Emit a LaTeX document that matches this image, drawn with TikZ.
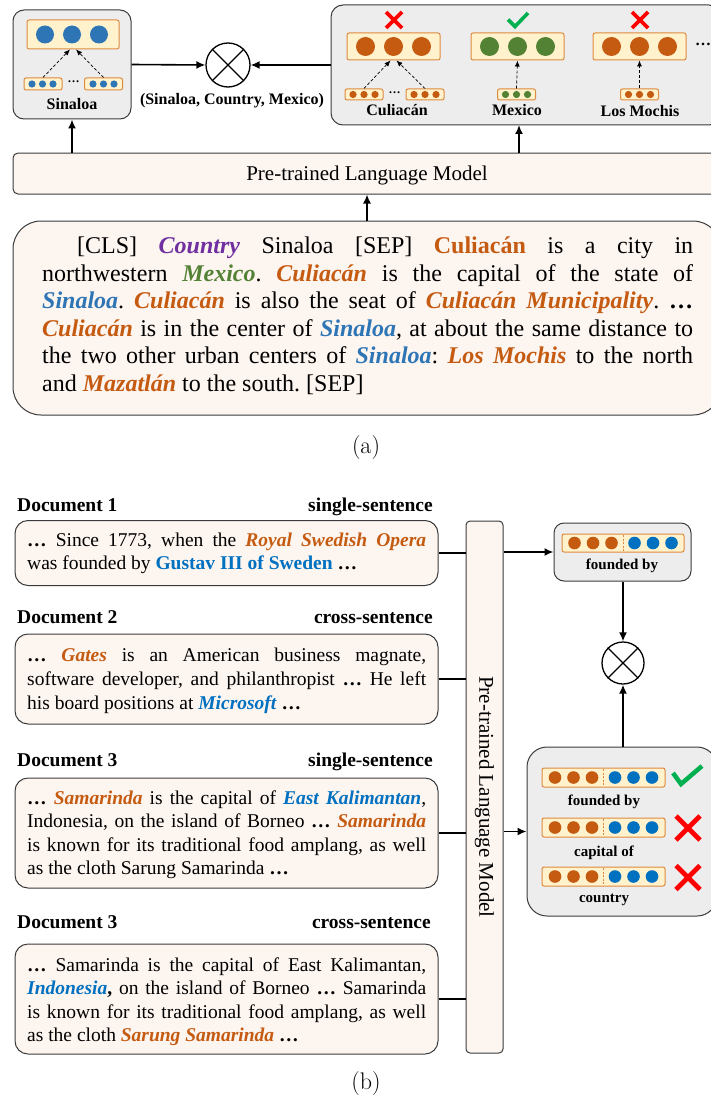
\documentclass[tikz,border=0pt]{standalone}
\usepackage{fontspec}
\setmainfont{Liberation Serif}
\newfontfamily\capfont{Latin Modern Roman}
\usetikzlibrary{arrows.meta}
\frenchspacing

\definecolor{edge}{HTML}{3B3B3B}
\definecolor{graybg}{HTML}{EDEDED}
\definecolor{peach}{HTML}{FDF5F0}
\definecolor{vfill}{HTML}{FFF2CC}
\definecolor{vedge}{HTML}{DD8A3E}
\definecolor{dotor}{HTML}{C55A11}
\definecolor{dotbl}{HTML}{2E75B6}
\definecolor{dotbldk}{HTML}{0070C0}
\definecolor{dotgr}{HTML}{548235}
\definecolor{txpu}{HTML}{7030A0}
\definecolor{okgreen}{HTML}{00B050}
\definecolor{nored}{HTML}{FF0000}

\newcommand\hlor[1]{\textcolor{dotor}{\textbf{\textit{#1}}}}
\newcommand\hlblue[1]{\textcolor{dotbl}{\textbf{\textit{#1}}}}
\newcommand\hlbluedk[1]{\textcolor{dotbldk}{\textbf{\textit{#1}}}}
\newcommand\hlgr[1]{\textcolor{dotgr}{\textbf{\textit{#1}}}}
\newcommand\hlpu[1]{\textcolor{txpu}{\textbf{\textit{#1}}}}
\newcommand\bdots{\textbf{…}}

\begin{document}
\begin{tikzpicture}[x=1pt,y=-1pt,
  graybox/.style={draw=edge,fill=graybg,line width=1pt,rounded corners=11pt,inner sep=0},
  peachbox/.style={draw=edge,fill=peach,line width=1pt,inner sep=0},
  vecbox/.style={draw=vedge,fill=vfill,line width=1pt,rounded corners=2pt,inner sep=0},
  arr/.style={-{Latex[length=9pt,width=8pt]},line width=1.6pt},
  darr/.style={-{Latex[length=6pt,width=5pt]},line width=0.7pt,dash pattern=on 3pt off 2pt},
  lbl/.style={font=\bfseries\fontsize{16}{18}\selectfont,inner sep=0},
  body/.style={font=\fontsize{24}{27.5}\selectfont,anchor=base west,inner sep=0},
  doc/.style={font=\fontsize{19.5}{23}\selectfont,anchor=base west,inner sep=0},
  dochead/.style={font=\bfseries\fontsize{19.5}{22}\selectfont,inner sep=0},
  mulop/.style={draw,circle,line width=1.3pt,inner sep=0},
  cross/.style={nored,line width=3.6pt},
  tick/.style={okgreen,line width=3.6pt},
  split/.style={vedge,line width=0.8pt,dash pattern=on 2pt off 1.5pt},
  caption/.style={font=\capfont\fontsize{24}{28}\selectfont,inner sep=0}]
\useasboundingbox (0,0) rectangle (711,1097);

% ---------------- (a) ----------------
% head entity
\node[graybox,minimum width=118pt,minimum height=109pt] (sin) at (72,64.5) {};
\node[vecbox,minimum width=92pt,minimum height=29pt] (sbig) at (73,34.5) {};
\foreach \x in {45,72,99} \fill[dotbl] (\x,34.5) circle[radius=9pt];
\node[vecbox,minimum width=38pt,minimum height=12pt] (ss1) at (43,84) {};
\node[vecbox,minimum width=38pt,minimum height=12pt] (ss2) at (103.5,84) {};
\foreach \x in {32,42.5,53,93,103.5,114} \fill[dotbl] (\x,84) circle[radius=3.6pt];
\node[font=\bfseries\fontsize{12}{12}\selectfont,inner sep=0] (sdots) at (73.5,82) {…};
\draw[darr] (ss1.north) -- ([xshift=-3pt]sbig.south);
\draw[darr] (ss2.north) -- ([xshift=3pt]sbig.south);
\node[lbl] (sinlbl) at (72,104) {Sinaloa};

% matching operator
\node[mulop,minimum size=44pt] (ox1) at (228,65) {};
\draw[line width=1.3pt] (ox1.north west) -- (ox1.south east) (ox1.north east) -- (ox1.south west);
\node[lbl] (triple) at (232,101) {(Sinaloa, Country, Mexico)};

% candidate tails
\node[graybox,rounded corners=12pt,minimum width=390pt,minimum height=120pt] (cand) at (526,65) {};
\node[vecbox,minimum width=93pt,minimum height=27pt] (cv1) at (393.5,46.5) {};
\node[vecbox,minimum width=93pt,minimum height=27pt] (cv2) at (517.5,46.5) {};
\node[vecbox,minimum width=93pt,minimum height=27pt] (cv3) at (639.5,46.5) {};
\foreach \x in {365.5,393.5,421.5,611.5,639.5,667.5} \fill[dotor] (\x,46.5) circle[radius=9.5pt];
\foreach \x in {489.5,517.5,545.5} \fill[dotgr] (\x,46.5) circle[radius=9.5pt];
\node[vecbox,minimum width=38pt,minimum height=11pt] (cs1) at (364,94.5) {};
\node[vecbox,minimum width=38pt,minimum height=11pt] (cs2) at (425,94.5) {};
\node[vecbox,minimum width=38pt,minimum height=11pt] (cs3) at (516.5,94.5) {};
\node[vecbox,minimum width=38pt,minimum height=11pt] (cs4) at (639.5,94.5) {};
\foreach \c in {364,425,639.5} \foreach \d in {-11,0,11} \fill[dotor] (\c+\d,94.5) circle[radius=3.6pt];
\foreach \d in {-11,0,11} \fill[dotgr] (516.5+\d,94.5) circle[radius=3.6pt];
\node[font=\bfseries\fontsize{12}{12}\selectfont,inner sep=0] (cdots) at (394.5,92.5) {…};
\node[font=\bfseries\fontsize{16}{16}\selectfont,inner sep=0] (moredots) at (703,44) {…};
\draw[darr] (cs1.north) -- ([xshift=-3pt]cv1.south);
\draw[darr] (cs2.north) -- ([xshift=3pt]cv1.south);
\draw[darr] (cs3.north) -- (cv2.south);
\draw[darr] (cs4.north) -- (cv3.south);
\node[lbl] (cl1) at (397,110) {Culiacán};
\node[lbl] (cl2) at (517,110) {Mexico};
\node[lbl] (cl3) at (640,111) {Los Mochis};
\draw[cross] (386,12) -- (402,28) (402,12) -- (386,28);
\draw[cross] (632,12) -- (648,28) (648,12) -- (632,28);
\draw[tick] (508,19.5) -- (515,26.5) -- (528,13);

\draw[arr] (sin.east) -- (ox1.west);
\draw[arr] (cand.west) -- (ox1.east);

% encoder
\node[peachbox,rounded corners=5pt,minimum width=708pt,minimum height=41pt] (plm) at (367,173.5) {};
\node[font=\fontsize{21}{24}\selectfont,inner sep=0] (plmtxt) at (367,175) {Pre-trained Language Model};
\coordinate (candin) at (519,125);
\draw[arr] (plm.north -| sin.south) -- (sin.south);
\draw[arr] (plm.north -| candin) -- (candin);

% input text
\node[peachbox,rounded corners=28pt,minimum width=708pt,minimum height=194pt] (tb) at (367,318) {};
\draw[arr] (tb.north) -- (plm.south);
\node[body] (a1) at (77,253) {\makebox[616pt][s]{[CLS] \hlpu{Country} Sinaloa [SEP] \textcolor{dotor}{\textbf{Culiacán}} is a city in}};
\node[body] (a2) at (42,281) {\makebox[651pt][s]{northwestern \hlgr{Mexico}. \hlor{Culiacán} is the capital of the state of}};
\node[body] (a3) at (42,308) {\makebox[651pt][s]{\hlblue{Sinaloa}. \hlor{Culiacán} is also the seat of \hlor{Culiacán Municipality}. \bdots}};
\node[body] (a4) at (42,336) {\makebox[651pt][s]{\hlor{Culiacán} is in the center of \hlblue{Sinaloa}, at about the same distance to}};
\node[body] (a5) at (42,363) {\makebox[651pt][s]{the two other urban centers of \hlblue{Sinaloa}: \hlor{Los Mochis} to the north}};
\node[body] (a6) at (42,391) {and \hlor{Mazatlán} to the south. [SEP]};
\node[caption] (capa) at (366,448) {(a)};

% ---------------- (b) ----------------
\node[dochead,anchor=base west] (h1) at (17,511) {Document 1};
\node[dochead,anchor=base east] (t1) at (433,511) {single-sentence};
\node[peachbox,rounded corners=13pt,minimum width=423pt,minimum height=65pt] (d1) at (226.5,553) {};
\node[doc] (p1a) at (27,546) {\makebox[399pt][s]{\bdots{} Since 1773, when the \hlor{Royal Swedish Opera}}};
\node[doc] (p1b) at (27,569.5) {was founded by \textcolor{dotbldk}{\textbf{Gustav III of Sweden}} \bdots};

\node[dochead,anchor=base west] (h2) at (17,623) {Document 2};
\node[dochead,anchor=base east] (t2) at (433,623) {cross-sentence};
\node[peachbox,rounded corners=13pt,minimum width=423pt,minimum height=90pt] (d2) at (226.5,679) {};
\node[doc] (p2a) at (27,661) {\makebox[399pt][s]{\bdots{} \hlor{Gates} is an American business magnate,}};
\node[doc] (p2b) at (27,685) {\makebox[399pt][s]{software developer, and philanthropist \bdots{} He left}};
\node[doc] (p2c) at (27,709) {his board positions at \hlbluedk{Microsoft} \bdots};

\node[dochead,anchor=base west] (h3) at (17,766) {Document 3};
\node[dochead,anchor=base east] (t3) at (433,766) {single-sentence};
\node[peachbox,rounded corners=13pt,minimum width=423pt,minimum height=110pt] (d3) at (226.5,833) {};
\node[doc] (p3a) at (27,804) {\makebox[399pt][s]{\bdots{} \hlor{Samarinda} is the capital of \hlbluedk{East Kalimantan},}};
\node[doc] (p3b) at (27,827.5) {\makebox[399pt][s]{Indonesia, on the island of Borneo \bdots{} \hlor{Samarinda}}};
\node[doc] (p3c) at (27,851) {\makebox[399pt][s]{is known for its traditional food amplang, as well}};
\node[doc] (p3d) at (27,874.5) {as the cloth Sarung Samarinda \bdots};

\node[dochead,anchor=base west] (h4) at (17,928) {Document 3};
\node[dochead,anchor=base east] (t4) at (431,928) {cross-sentence};
\node[peachbox,rounded corners=13pt,minimum width=423pt,minimum height=110pt] (d4) at (226.5,999) {};
\node[doc] (p4a) at (27,971) {\makebox[399pt][s]{\bdots{} Samarinda is the capital of East Kalimantan,}};
\node[doc] (p4b) at (27,994.5) {\makebox[399pt][s]{\hlbluedk{Indonesia}\textbf{,} on the island of Borneo \bdots{} Samarinda}};
\node[doc] (p4c) at (27,1018) {\makebox[399pt][s]{is known for its traditional food amplang, as well}};
\node[doc] (p4d) at (27,1041.5) {as the cloth \hlor{Sarung Samarinda} \bdots};

% vertical encoder
\node[peachbox,rounded corners=4pt,minimum width=37pt,minimum height=532pt] (plmv) at (484.5,787) {};
\node[font=\fontsize{21}{24}\selectfont,inner sep=0,rotate=-90] (plmvtxt) at (484.5,797) {Pre-trained Language Model};
\foreach \d in {d1,d2,d3,d4} \draw[line width=1.6pt] (\d.east) -- (\d.east -| plmv.west);

% query relation
\node[graybox,rounded corners=10pt,minimum width=137pt,minimum height=58pt] (fb) at (622.5,552) {};
\node[vecbox,minimum width=122pt,minimum height=18pt] (fv) at (623,543) {};
\foreach \d in {-48.5,-30,-11.5} \fill[dotor] (623+\d,543) circle[radius=6.3pt];
\foreach \d in {11.5,30,48.5} \fill[dotbldk] (623+\d,543) circle[radius=6.3pt];
\draw[split] (623,535) -- (623,551);
\node[lbl,font=\bfseries\fontsize{15}{17}\selectfont] (fl) at (622,566) {founded by};

\node[mulop,minimum size=42pt] (ox2) at (623,663) {};
\draw[line width=1.3pt] (ox2.north west) -- (ox2.south east) (ox2.north east) -- (ox2.south west);

% candidate relations
\node[graybox,rounded corners=20pt,minimum width=190pt,minimum height=169pt] (rb) at (622,831.5) {};
\foreach \y/\n in {777.5/r1,827.5/r2,876.5/r3} {
  \node[vecbox,minimum width=123pt,minimum height=19pt] (\n) at (603.5,\y) {};
  \foreach \d in {-48.5,-30,-11.5} \fill[dotor] (603.5+\d,\y) circle[radius=6.3pt];
  \foreach \d in {11.5,30,48.5} \fill[dotbldk] (603.5+\d,\y) circle[radius=6.3pt];
  \draw[split] (603.5,\y-8.5) -- (603.5,\y+8.5);
}
\node[lbl,font=\bfseries\fontsize{15}{17}\selectfont] (rl1) at (604,802) {founded by};
\node[lbl,font=\bfseries\fontsize{15}{17}\selectfont] (rl2) at (604,853) {capital of};
\node[lbl,font=\bfseries\fontsize{15}{17}\selectfont] (rl3) at (604,900) {country};
\draw[tick,line width=4.5pt] (673,773) -- (681,784) -- (702,766);
\draw[cross,line width=4.8pt] (676,816) -- (700,840) (700,816) -- (676,840);
\draw[cross,line width=4.8pt] (676,865.5) -- (700,889.5) (700,865.5) -- (676,889.5);

\draw[arr] (fb.west -| plmv.east) -- (fb.west);
\draw[arr] (rb.west -| plmv.east) -- (rb.west);
\draw[arr] (fb.south -| ox2.north) -- (ox2.north);
\draw[arr] (rb.north -| ox2.south) -- (ox2.south);

\node[caption] (capb) at (366,1083) {(b)};
\end{tikzpicture}
\end{document}
